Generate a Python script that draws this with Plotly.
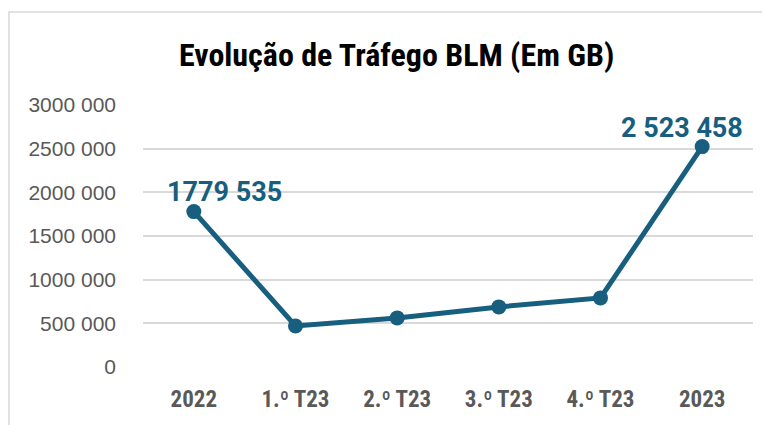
import plotly.graph_objects as go

categories = ["2022", "1.º T23", "2.º T23", "3.º T23", "4.º T23", "2023"]
traffic_gb = [1779535, 470000, 562000, 688000, 791000, 2523458]
label_text = ["1779 535", "", "", "", "", "2 523 458"]
ytick_vals = [0, 500000, 1000000, 1500000, 2000000, 2500000, 3000000]
ytick_text = ["0", "500 000", "1000 000", "1500 000", "2000 000", "2500 000", "3000 000"]

line_color = "#175E7F"

fig = go.Figure()
fig.add_trace(go.Scatter(
    x=categories, y=traffic_gb, mode="lines+markers",
    line=dict(color=line_color, width=5),
    marker=dict(color=line_color, size=15),
    hoverinfo="skip", showlegend=False,
))

shifts = {0: (31, 20), 5: (-20, 19)}
for i, (v, t) in enumerate(zip(traffic_gb, label_text)):
    if t:
        fig.add_annotation(x=i, y=v, text=f"<b>{t}</b>", showarrow=False,
                           xshift=shifts[i][0], yshift=shifts[i][1],
                           font=dict(family="Roboto, Arial", size=27, color=line_color))

fig.add_shape(type="rect", xref="paper", yref="paper",
              x0=-0.2197, x1=1.2, y0=-0.4, y1=1.355,
              line=dict(color="#D9D9D9", width=1.5), layer="below")

fig.update_layout(
    width=762, height=417,
    margin=dict(l=135, r=17, t=97, b=58),
    paper_bgcolor="white", plot_bgcolor="white",
    title=dict(text="<b>Evolução de Tráfego BLM (Em GB)</b>", x=0.51, xanchor="center",
               y=0.887, yanchor="middle", automargin=False,
               font=dict(family="Roboto Condensed, Roboto, Arial", size=32, color="#000000")),
    xaxis=dict(type="category", range=[-0.5, 5.5], showgrid=False, zeroline=False, showline=False,
               automargin=False,
               ticks="", tickfont=dict(family="Roboto Condensed, Roboto, Arial", size=23, color="#595959"),
               tickprefix="<b>", ticksuffix="</b>", ticklabelstandoff=16),
    yaxis=dict(range=[0, 3000000], tickvals=ytick_vals, ticktext=ytick_text,
               showgrid=True, gridcolor="#D9D9D9", gridwidth=1.5, zeroline=False,
               automargin=False,
               showline=False, ticks="", ticklabelstandoff=26,
               tickfont=dict(family="Liberation Sans, Arial", size=21, color="#595959")),
)

fig.write_html("out.html")
